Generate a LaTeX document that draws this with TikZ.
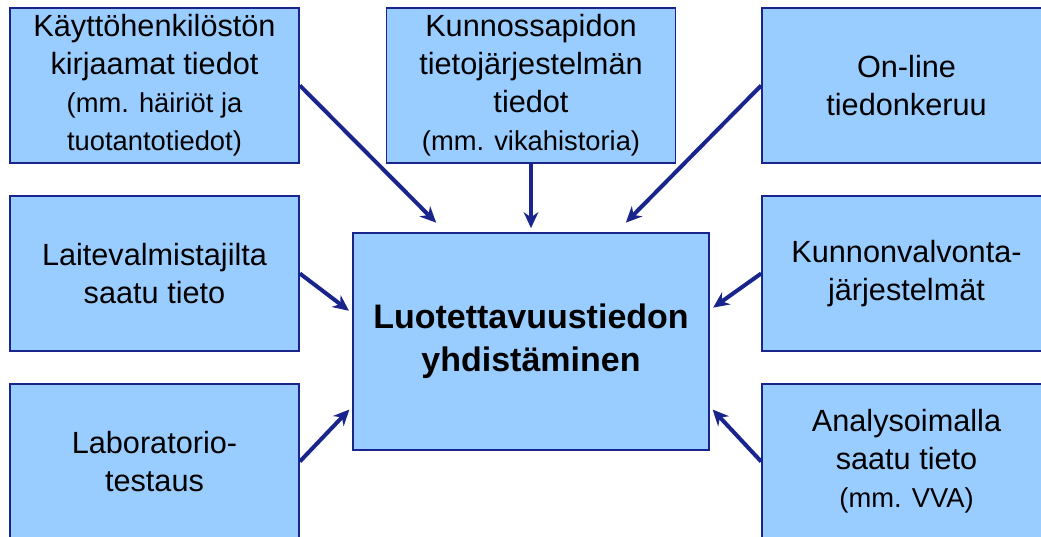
\documentclass[tikz,border=0pt]{standalone}
\usepackage{fontspec}
\setmainfont{Liberation Sans}
\usepackage{tikz}
\usetikzlibrary{shapes,arrows.meta}
\definecolor{infofill}{rgb}{0.60,0.80,1.00}
\definecolor{infoline}{rgb}{0.10,0.14,0.55}
\tikzstyle{infobox}=[rectangle, draw=infoline, line width=1.3pt, fill=infofill, minimum width=216.75pt, minimum height=116.25pt, align=center, font=\fontsize{23}{28.5}\selectfont]
\tikzstyle{mainbox}=[infobox, minimum width=267pt, minimum height=162.75pt, font=\fontsize{25.5}{32}\selectfont\bfseries]
\tikzstyle{infoflow}=[draw=infoline, line width=3pt, -{Stealth[length=12pt,width=11pt]}, shorten >=3pt]
\newcommand{\detail}[1]{{\fontsize{20.5}{25}\selectfont #1}}
\newcommand{\infobox}[3]{
	\node[infobox] (#1) at (#2) {#3};}
\newcommand{\mainbox}[3]{
	\node[mainbox] (#1) at (#2) {#3};}

\begin{document}
\begin{tikzpicture}[x=0.75pt,y=-0.75pt]
	\useasboundingbox (0,0) rectangle (1041,536);
	\clip (0,0) rectangle (1041,536);

	\infobox{staff}{154.5,85.5}{Käyttöhenkilöstön\\kirjaamat tiedot\\\detail{(mm. häiriöt ja}\\\detail{tuotantotiedot)}}
	\infobox{maintenance}{531,85.5}{Kunnossapidon\\tietojärjestelmän\\tiedot\\\detail{(mm. vikahistoria)}}
	\infobox{online}{906.5,85.5}{On-line\\tiedonkeruu}
	
	\infobox{manufacturer}{154.5,273.5}{Laitevalmistajilta\\saatu tieto}
	\infobox{monitoring}{906.5,273.5}{Kunnonvalvonta-\\järjestelmät}
	
	\infobox{laboratory}{154.5,461.5}{Laboratorio-\\testaus}
	\infobox{analysis}{906.5,461.5}{Analysoimalla\\saatu tieto\\\detail{(mm. VVA)}}
	
	\mainbox{combining}{531,341.5}{Luotettavuustiedon\\yhdistäminen}
	
	\path (staff.east) edge[infoflow, shorten >=10pt] (combining.128);
	\path (maintenance.south) edge[infoflow] (combining.north);
	\path (online.west) edge[infoflow, shorten >=10pt] (combining.52);
	\path (manufacturer.east) edge[infoflow] (combining.171);
	\path (monitoring.west) edge[infoflow] (combining.10);
	\path (laboratory.east) edge[infoflow] (combining.200);
	\path (analysis.west) edge[infoflow] (combining.340);
\end{tikzpicture}
\end{document}
